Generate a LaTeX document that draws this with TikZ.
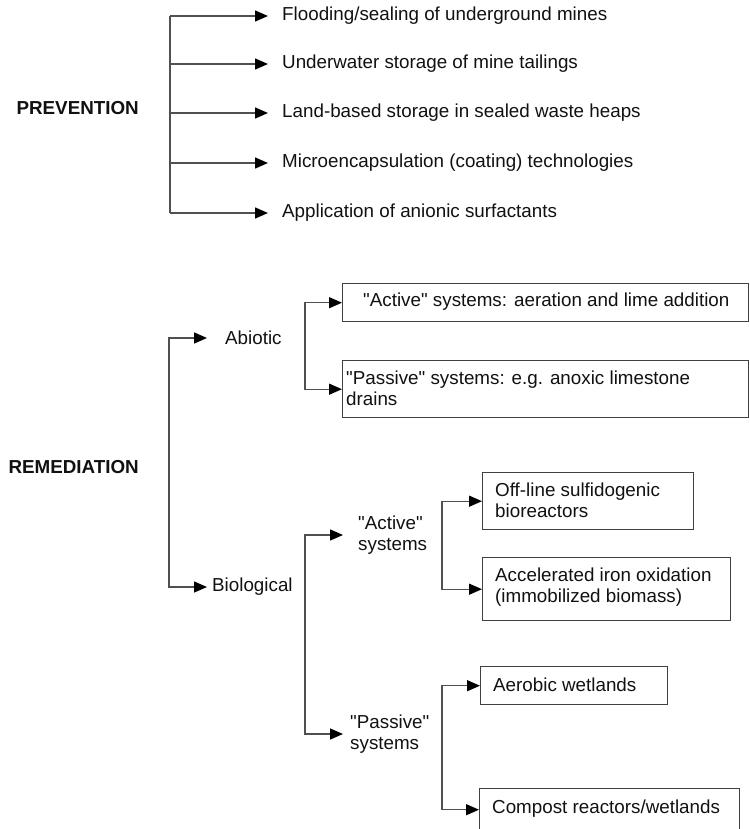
\documentclass[tikz,border=0pt]{standalone}
\usepackage{fontspec}
\setmainfont{Liberation Sans}[Ligatures=TeXOff]
\usetikzlibrary{arrows.meta}
\definecolor{linec}{HTML}{505050}
\definecolor{boxc}{HTML}{404040}
\definecolor{txtc}{HTML}{111111}
\begin{document}
\begin{tikzpicture}[x=1pt,y=-1pt,
  line/.style={draw=linec, line width=1.4pt},
  conn/.style={draw=linec, line width=1.4pt, -{Triangle[length=13pt,width=11pt,color=black]}},
  txt/.style={inner sep=0pt, anchor=west, align=left, text=txtc, font=\fontsize{18.8}{21.5}\selectfont},
  head/.style={inner sep=0pt, anchor=east, text=txtc, font=\fontsize{18.8}{21.5}\selectfont\bfseries},
  frame/.style={draw=boxc, line width=1.4pt, anchor=north west, inner sep=0pt},
]
\useasboundingbox (0,0) rectangle (749,829);

% ---------------- PREVENTION ----------------
\node[head] (prev) at (139,108) {PREVENTION};
\coordinate (pvb) at (170,108);
\node[txt] (p1) at (282,16) {Flooding/sealing of underground mines};
\node[txt] (p2) at (282,64) {Underwater storage of mine tailings};
\node[txt] (p3) at (282,113) {Land-based storage in sealed waste heaps};
\node[txt] (p4) at (282,163) {Microencapsulation (coating) technologies};
\node[txt] (p5) at (282,213) {Application of anionic surfactants};
\draw[line] (pvb |- p1.west) -- (pvb |- p5.west);
\foreach \n in {p1,p2,p3,p4,p5}
  \draw[conn, shorten >=14pt] (pvb |- \n.west) -- (\n.west);

% ---------------- REMEDIATION ----------------
\node[head] (rem) at (139,467) {REMEDIATION};
\coordinate (rmb) at (169,467);
\node[txt] (abio) at (225,338) {Abiotic};
\node[txt] (bio) at (212,587) {Biological};
\draw[conn, shorten >=18pt] (rmb) |- (abio.west);
\draw[conn, shorten >=5pt] (rmb) |- (bio.west);

% Abiotic branch
\node[frame, minimum width=405.5pt, minimum height=38pt] (a1) at (342,283) {};
\node[txt] (a1t) at (363,302) {"Active" systems: aeration and lime addition};
\node[frame, minimum width=405.5pt, minimum height=57pt] (a2) at (342,360) {};
\node[txt] (a2t) at (346,388.5) {"Passive" systems: e.g. anoxic limestone\\drains};
\coordinate (abb) at (305,345);
\draw[conn] (abb) |- (a1.west);
\draw[conn] (abb) |- (a2.west);

% Biological branch
\node[txt] (acts) at (358,535) {"Active"\\systems};
\node[txt] (pass) at (350,734) {"Passive"\\systems};
\coordinate (bib) at (305,636);
\draw[conn, shorten >=15pt] (bib) |- (acts.west);
\draw[conn, shorten >=7pt] (bib) |- (pass.west);

% Active systems boxes
\node[frame, minimum width=211pt, minimum height=57pt] (b1) at (482,472) {};
\node[txt] (b1t) at (495,500.5) {Off-line sulfidogenic\\bioreactors};
\node[frame, minimum width=248pt, minimum height=63pt] (b2) at (482,557) {};
\node[txt] (b2t) at (495,587) {Accelerated iron oxidation\\(immobilized biomass)};
\coordinate (acb) at (442,543);
\draw[conn] (acb) |- (b1.west);
\draw[conn] (acb) |- (b2.west);

% Passive systems boxes
\node[frame, minimum width=187pt, minimum height=38pt] (c1) at (480,666) {};
\node[txt] (c1t) at (493,685) {Aerobic wetlands};
\node[frame, minimum width=260pt, minimum height=42pt] (c2) at (479,788) {};
\node[txt] (c2t) at (492,809) {Compost reactors/wetlands};
\coordinate (pab) at (442,747);
\draw[conn] (pab) |- (c1.west);
\draw[conn] (pab) |- (c2.west);
\end{tikzpicture}
\end{document}
